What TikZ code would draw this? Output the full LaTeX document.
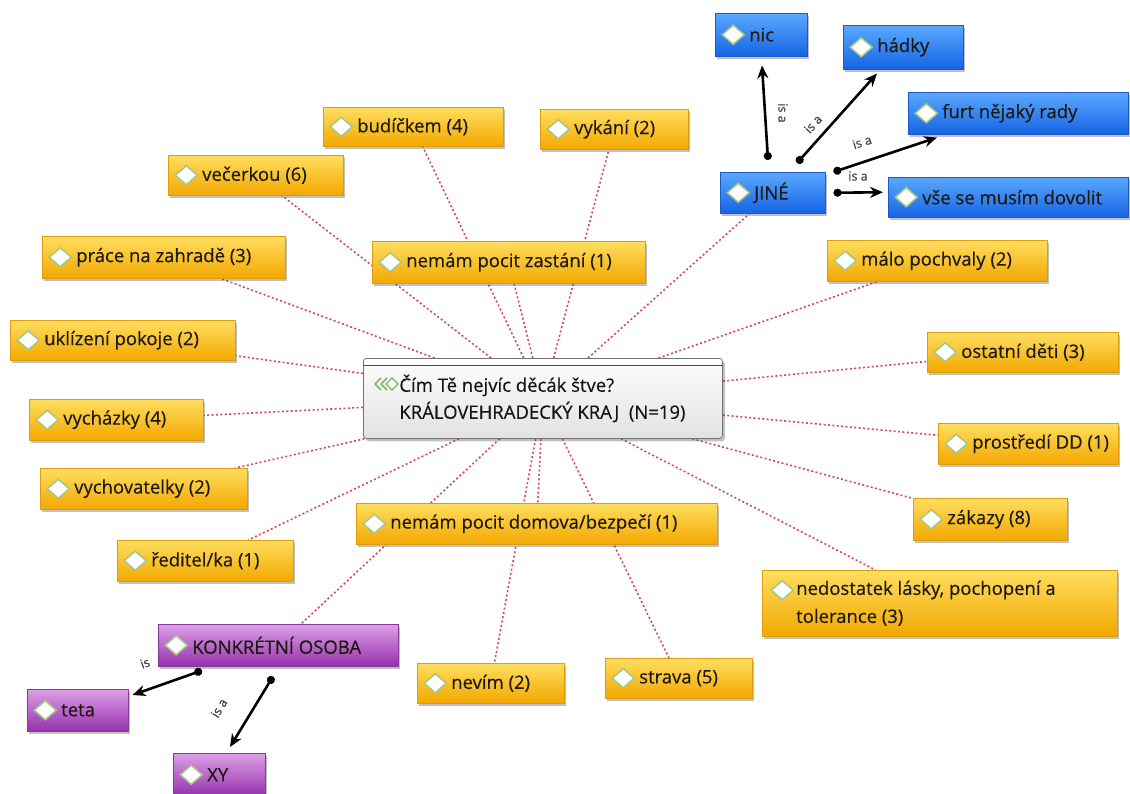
\documentclass[tikz,border=0pt]{standalone}
\usepackage{fontspec}
\setmainfont{Open Sans}[FakeBold=0.35]
\usetikzlibrary{shadows,arrows.meta,backgrounds,calc}
\definecolor{ytop}{RGB}{255,222,95}
\definecolor{ybot}{RGB}{242,168,0}
\definecolor{yedge}{RGB}{222,156,15}
\definecolor{btop}{RGB}{90,168,255}
\definecolor{bbot}{RGB}{22,100,228}
\definecolor{bedge}{RGB}{28,90,200}
\definecolor{ptop}{RGB}{220,160,232}
\definecolor{pbot}{RGB}{150,48,172}
\definecolor{pedge}{RGB}{135,55,150}
\definecolor{dmdc}{RGB}{165,200,130}
\definecolor{dotc}{RGB}{215,72,92}
\definecolor{ctop}{RGB}{253,253,253}
\definecolor{cbot}{RGB}{226,226,226}
\definecolor{iconc}{RGB}{125,185,95}
\definecolor{txt}{RGB}{30,25,15}
\newcommand\mkbox[7]{%
  \pgfmathsetmacro\bw{#5-#3}%
  \pgfmathsetmacro\bh{#6-#4}%
  \pgfmathsetmacro\tw{#5-#3-34}%
  \node[#1, minimum width=\bw pt, minimum height=\bh pt] (#2) at (#3,#4)
    {\hspace*{34pt}\parbox[c]{\tw pt}{\raggedright #7}};}
\tikzset{
  box/.style={anchor=north west, inner sep=0pt, line width=0.5pt,
    font=\fontsize{18.5}{28}\selectfont, text=txt,
    drop shadow={shadow xshift=2pt, shadow yshift=-2.5pt, opacity=0.35, fill=black!70}},
  dmd/.style={path picture={\draw[fill=white, draw=dmdc, line width=1.5pt]
    ($(path picture bounding box.west)+(18pt,0)$) +(-11pt,0) -- +(0,9.5pt) -- +(11pt,0) -- +(0,-9.5pt) -- cycle;}},
  dmdtop/.style={path picture={\draw[fill=white, draw=dmdc, line width=1.5pt]
    ($(path picture bounding box.north west)+(20pt,-20pt)$) +(-11pt,0) -- +(0,9.5pt) -- +(11pt,0) -- +(0,-9.5pt) -- cycle;}},
  ybox/.style={box, dmd, top color=ytop, bottom color=ybot, draw=yedge},
  yboxtop/.style={box, dmdtop, top color=ytop, bottom color=ybot, draw=yedge},
  bbox/.style={box, dmd, top color=btop, bottom color=bbot, draw=bedge},
  pbox/.style={box, dmd, top color=ptop, bottom color=pbot, draw=pedge},
  dotline/.style={draw=dotc, line width=1.6pt, dash pattern=on 2pt off 2.4pt},
  isarrow/.style={draw=black, line width=2.6pt, {Circle[length=8pt]}-{Stealth[length=13pt,width=11pt]}},
  lbl/.style={font=\fontsize{12.5}{14}\selectfont, text=black!75, inner sep=0.5pt},
  centerbox/.style={anchor=north west, inner sep=0pt, rounded corners=3pt,
    top color=ctop, bottom color=cbot, draw=black!55, line width=0.8pt,
    font=\fontsize{18.5}{27}\selectfont, text=black!92,
    drop shadow={shadow xshift=2.5pt, shadow yshift=-3pt, opacity=0.35, fill=black!70},
    path picture={\fill[white] (path picture bounding box.north west) rectangle ([yshift=-7pt]path picture bounding box.north east);
      \draw[black!70, line width=0.8pt] ([yshift=-7pt]path picture bounding box.north west) -- ([yshift=-7pt]path picture bounding box.north east);}}
}
\begin{document}
\begin{tikzpicture}[x=1pt,y=-1pt]
\useasboundingbox (0,0) rectangle (1130,794);

% central node
\node[centerbox, minimum width=359pt, minimum height=80pt] (c) at (363,358)
  {\hspace*{36pt}\parbox[c]{323pt}{\raggedright\rule{0pt}{8pt}Čím Tě nejvíc děcák štve?\\KRÁLOVEHRADECKÝ KRAJ\ \ (N=19)}};
\draw[iconc, line width=1.6pt, line join=round] (381,378) -- (375,384) -- (381,390);
\draw[iconc, line width=1.6pt, line join=round] (387,378) -- (381,384) -- (387,390);
\draw[iconc, line width=1.4pt] (386,384) -- (392,378) -- (398,384) -- (392,390) -- cycle;

% yellow codes
\mkbox{ybox}{bud}{323}{107}{503}{146}{budíčkem (4)}
\mkbox{ybox}{vyk}{540}{109}{688}{149}{vykání (2)}
\mkbox{ybox}{vec}{168}{155}{343}{195}{večerkou (6)}
\mkbox{ybox}{zas}{372}{241}{645}{283}{nemám pocit zastání (1)}
\mkbox{ybox}{pra}{42}{236}{285}{278}{práce na zahradě (3)}
\mkbox{ybox}{ukl}{10}{320}{235}{360}{uklízení pokoje (2)}
\mkbox{ybox}{vych}{29}{399}{203}{440}{vycházky (4)}
\mkbox{ybox}{vyv}{40}{468}{247}{509}{vychovatelky (2)}
\mkbox{ybox}{red}{117}{540}{293}{581}{ředitel/ka (1)}
\mkbox{ybox}{dom}{356}{503}{717}{544}{nemám pocit domova/bezpečí (1)}
\mkbox{ybox}{nev}{417}{663}{564}{703}{nevím (2)}
\mkbox{ybox}{str}{605}{658}{752}{698}{strava (5)}
\mkbox{yboxtop}{ned}{762}{570}{1117}{636}{nedostatek lásky, pochopení a\\tolerance (3)}
\mkbox{ybox}{zak}{913}{498}{1067}{540}{zákazy (8)}
\mkbox{ybox}{pro}{938}{423}{1118}{464}{prostředí DD (1)}
\mkbox{ybox}{ost}{927}{332}{1118}{372}{ostatní děti (3)}
\mkbox{ybox}{mal}{827}{240}{1047}{281}{málo pochvaly (2)}

% blue codes
\mkbox{bbox}{jine}{720}{172}{825}{213}{JINÉ}
\mkbox{bbox}{nic}{715}{13}{807}{56}{nic}
\mkbox{bbox}{hadky}{843}{25}{963}{69}{hádky}
\mkbox{bbox}{furt}{908}{92}{1128}{134}{furt nějaký rady}
\mkbox{bbox}{vse}{888}{177}{1128}{217}{vše se musím dovolit}

% purple codes
\mkbox{pbox}{ko}{158}{624}{398}{666}{KONKRÉTNÍ OSOBA}
\mkbox{pbox}{teta}{27}{689}{128}{731}{teta}
\mkbox{pbox}{xy}{173}{753}{265}{796}{XY}

% dotted links to the central node
\begin{pgfonlayer}{background}
\foreach \n in {bud,vyk,vec,zas,pra,ukl,vych,vyv,red,ko,dom,nev,str,ned,zak,pro,ost,mal,jine}
  \draw[dotline] (c) -- (\n);
\end{pgfonlayer}

% is-a arrows
\draw[isarrow] ($(jine.north west)+(48,-12)$) -- ($(nic.south west)+(47,9)$);
\draw[isarrow] ($(jine.north west)+(77,-9)$) -- ($(hadky.south west)+(34,4)$);
\draw[isarrow] ($(jine.north east)+(8,0)$) -- ($(furt.south west)+(29,3)$);
\draw[isarrow] ($(jine.east)+(8,0)$) -- ($(vse.west)+(-5,-5)$);
\draw[isarrow] ($(ko.south west)+(44,4)$) -- ($(teta.north east)+(4,6)$);
\draw[isarrow] ($(ko.south west)+(115,10)$) -- ($(xy.north west)+(57,-6)$);

\node[lbl, rotate=-90] (l1) at (783,113) {is a};
\node[lbl, rotate=48] (l2) at (813,124) {is a};
\node[lbl, rotate=18] (l3) at (862,142) {is a};
\node[lbl] (l4) at (858,176) {is a};
\node[lbl, rotate=20] (l5) at (145,663) {is};
\node[lbl, rotate=59] (l6) at (219,708) {is a};
\end{tikzpicture}
\end{document}
